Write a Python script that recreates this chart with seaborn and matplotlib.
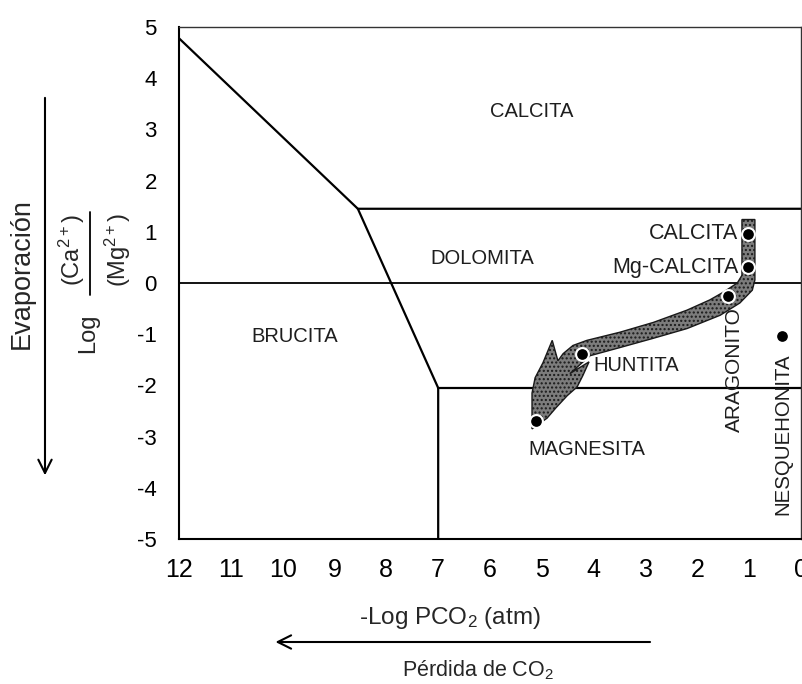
import matplotlib
matplotlib.use("Agg")
import matplotlib.pyplot as plt
import seaborn as sns

# --- data ---
# phase boundaries (x = -Log PCO2, y = Log Ca/Mg)
bound_upper_x = [12, 8.55, 0]
bound_upper_y = [4.78, 1.45, 1.45]
bound_mid_x = [8.55, 7, 7]
bound_mid_y = [1.45, -2.05, -5]
bound_low_x = [7, 0]
bound_low_y = [-2.05, -2.05]
bound_zero_x = [12, 0]
bound_zero_y = [0, 0]

# evolution band (outline of the shaded arrow, clockwise from top-left)
band_x = [1.14, 1.14, 1.23, 1.50, 1.76, 2.20, 2.85, 3.49, 4.13, 4.40, 4.59, 4.69,
          4.80, 4.98, 5.13, 5.19, 5.19, 5.19, 4.90, 4.73, 4.51, 4.32, 4.21, 4.09,
          4.46, 4.07, 3.49, 2.85, 2.20, 1.56, 1.18, 0.94, 0.89, 0.89]
band_y = [1.24, 0.15, 0.00, -0.18, -0.33, -0.53, -0.77, -0.96, -1.12, -1.22, -1.38, -1.52,
          -1.12, -1.56, -1.85, -2.15, -2.46, -2.85, -2.64, -2.44, -2.20, -2.03, -1.81, -1.54,
          -1.77, -1.42, -1.26, -1.08, -0.89, -0.63, -0.39, -0.14, 0.06, 1.24]

# mineral points
dot_names = ["CALCITA", "Mg-CALCITA", "ARAGONITO", "HUNTITA", "MAGNESITA", "NESQUEHONITA"]
dot_x = [1.02, 1.02, 1.41, 4.23, 5.12, 0.37]
dot_y = [0.96, 0.31, -0.26, -1.38, -2.70, -1.04]

# field labels
field_names = ["CALCITA", "DOLOMITA", "BRUCITA"]
field_x = [5.19, 6.15, 9.76]
field_y = [3.35, 0.48, -1.05]

x_ticks = list(range(0, 13))
y_ticks = list(range(-5, 6))


def draw_diagram():
    sns.set_theme(style="white")
    plt.rcParams["font.family"] = ["Liberation Sans", "DejaVu Sans"]
    plt.rcParams["mathtext.fontset"] = "custom"
    plt.rcParams["mathtext.rm"] = "Liberation Sans"
    plt.rcParams["mathtext.it"] = "Liberation Sans:italic"
    plt.rcParams["hatch.linewidth"] = 1.0

    fig = plt.figure(figsize=(8.02, 6.84), dpi=100)
    ax = fig.add_axes([0.2232, 0.2120, 0.7756, 0.7485])

    # --- 1. phase boundaries ---
    for bx, by in [(bound_upper_x, bound_upper_y), (bound_mid_x, bound_mid_y),
                   (bound_low_x, bound_low_y)]:
        sns.lineplot(x=bx, y=by, sort=False, estimator=None, color="black",
                     linewidth=1.6, ax=ax)
    sns.lineplot(x=bound_zero_x, y=bound_zero_y, sort=False, estimator=None,
                 color="black", linewidth=1.3, ax=ax)

    # --- 2. shaded evolution arrow ---
    ax.fill(band_x, band_y, facecolor="#7c7c7c", edgecolor="#1a1a1a",
            hatch="....", linewidth=1.0, zorder=3)

    # --- 3. mineral points ---
    sns.scatterplot(x=dot_x, y=dot_y, color="black", s=85, edgecolor="white",
                    linewidth=1.5, zorder=5, ax=ax)

    # --- 4. labels ---
    for name, fx, fy in zip(field_names, field_x, field_y):
        ax.text(fx, fy, name, fontsize=14.5, ha="center", va="center", color="#1e1e1e")
    ax.text(1.21, 0.96, "CALCITA", fontsize=15.5, ha="right", va="center", color="#1e1e1e")
    ax.text(1.21, 0.31, "Mg-CALCITA", fontsize=15.5, ha="right", va="center", color="#1e1e1e")
    ax.text(4.0, -1.61, "HUNTITA", fontsize=14.5, ha="left", va="center", color="#1e1e1e")
    ax.text(4.14, -3.25, "MAGNESITA", fontsize=14.5, ha="center", va="center", color="#1e1e1e")
    ax.text(1.29, -1.69, "ARAGONITO", fontsize=15, rotation=90, ha="center",
            va="center", color="#1e1e1e")
    ax.text(0.36, -2.96, "NESQUEHONITA", fontsize=14.7, rotation=90, ha="center",
            va="center", color="#1e1e1e")

    # --- 5. axes ---
    ax.set_xlim(12, 0)
    ax.set_ylim(-5, 5)
    ax.set_xticks(x_ticks)
    ax.set_yticks(y_ticks)
    ax.set_xticklabels([str(t) for t in x_ticks])
    ax.set_yticklabels([str(t) for t in y_ticks])
    ax.tick_params(axis="x", direction="in", length=14, width=1.2, pad=14,
                   labelsize=18, colors="black")
    ax.tick_params(axis="y", direction="in", length=14, width=1.2, pad=16,
                   labelsize=16, colors="black")
    for side in ["left", "bottom"]:
        ax.spines[side].set_linewidth(1.5)
        ax.spines[side].set_color("black")
    for side in ["top", "right"]:
        ax.spines[side].set_linewidth(1.0)
        ax.spines[side].set_color("#333333")
    ax.grid(False)

    # --- 6. outside annotations ---
    fig.text(0.0274, 0.5994, "Evaporación", rotation=90, fontsize=19.5,
             ha="center", va="center")
    fig.text(0.1097, 0.5132, "Log", rotation=90, fontsize=17, ha="center", va="center")
    fig.text(0.0898, 0.6345, "(Ca$^{2+}$)", rotation=90, fontsize=17,
             ha="center", va="center")
    fig.text(0.1471, 0.6345, "(Mg$^{2+}$)", rotation=90, fontsize=17,
             ha="center", va="center")
    fig.add_artist(plt.Line2D([0.1122, 0.1122], [0.569, 0.690], color="black",
                              linewidth=1.3, transform=fig.transFigure))
    fig.text(0.561, 0.0965, "-Log PCO$_2$ (atm)", fontsize=17.5, ha="center", va="center")
    fig.text(0.596, 0.0200, "Pérdida de CO$_2$", fontsize=15.5, ha="center", va="center")

    ax.annotate("", xy=(0.0561, 0.301), xytext=(0.0561, 0.861),
                xycoords="figure fraction", textcoords="figure fraction",
                arrowprops=dict(arrowstyle="->,head_length=0.8,head_width=0.4",
                                color="black", linewidth=1.5))
    ax.annotate("", xy=(0.340, 0.0614), xytext=(0.814, 0.0614),
                xycoords="figure fraction", textcoords="figure fraction",
                arrowprops=dict(arrowstyle="->,head_length=0.8,head_width=0.4",
                                color="black", linewidth=1.5))

    fig.savefig("out.png", dpi=100)
    print("saved out.png")


def main():
    draw_diagram()


if __name__ == "__main__":
    main()
